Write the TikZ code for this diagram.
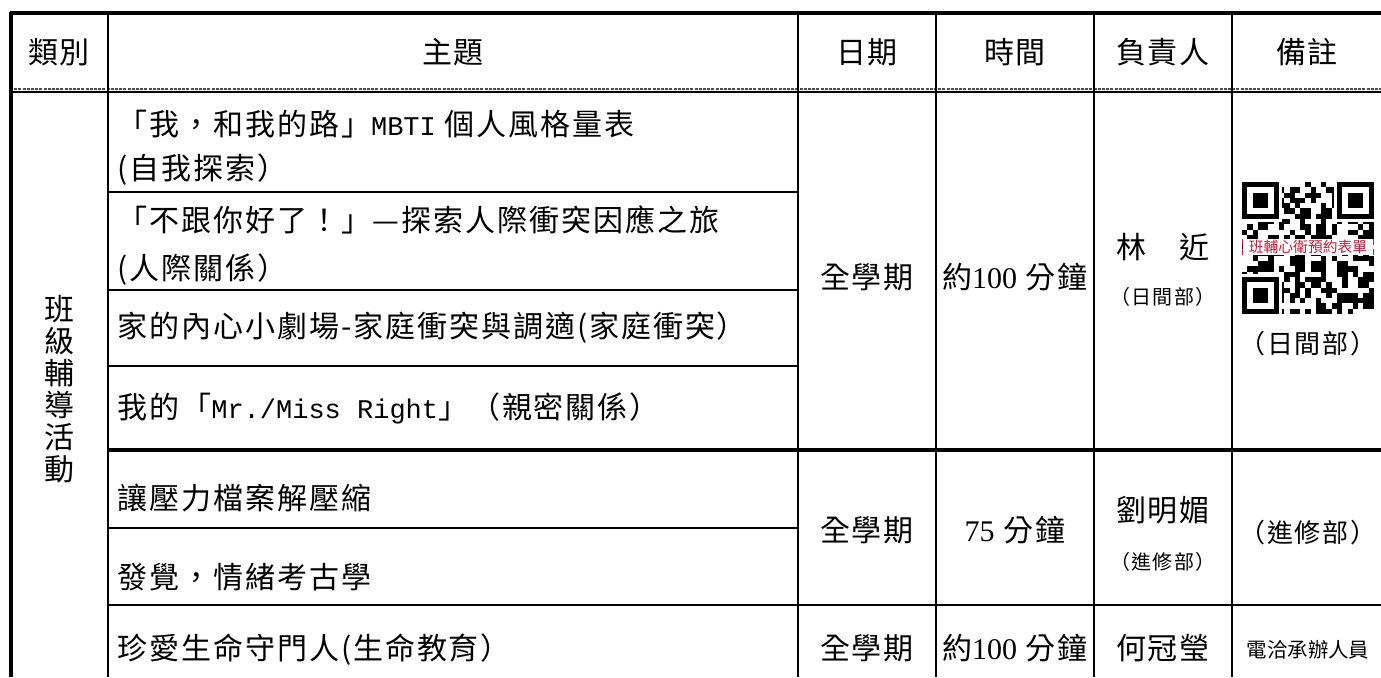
\documentclass[tikz,border=0pt]{standalone}
\usepackage{fontspec}
\usepackage{xcolor}
\setmainfont{Noto Sans CJK TC}[LetterSpace=6.5]
\newfontfamily\latfont{Liberation Mono}[Scale=0.9]
\newfontfamily\numfont{Liberation Serif}
\newfontfamily\notefont{Noto Sans CJK TC}
\definecolor{qr-red}{RGB}{196,30,58}
\tikzset{
    grid-line/.style = {line width=1pt},
    heavy-line/.style = {line width=1.6pt},
    hatch-line/.style = {black!70, line width=1pt, dash pattern=on 1.5pt off 0.6pt},
    cell-text/.style = {inner sep=0pt, font=\fontsize{15}{16}\selectfont},
    topic-text/.style = {cell-text, anchor=west},
    dept-text/.style = {inner sep=0pt, font=\fontsize{10}{12}\selectfont},
    note-text/.style = {inner sep=0pt, font=\fontsize{13}{15}\selectfont},
    qr-band/.style = {fill=white, text=qr-red, inner sep=0pt, minimum width=65pt, minimum height=8pt, font=\notefont\fontsize{7.4}{8}\selectfont},
}

\begin{document}
\begin{tikzpicture}[x=0.5pt, y=-0.5pt]
\useasboundingbox (0,0) rectangle (1381,677);
\fill[white] (0,0) rectangle (1381,677);

% table rules
\draw[hatch-line] (10,89) -- (1381,89);
\draw[line width=1.1pt] (10,92) -- (1381,92);
\draw[line width=2pt] (10,13) -- (1381,13);
\draw[line width=2pt] (11,12) -- (11,677);
\foreach \x in {108,798,936,1094,1232}
    \draw[grid-line] (\x,13) -- (\x,677);
\foreach \y in {192,290,366,528}
    \draw[grid-line] (108,\y) -- (798,\y);
\draw[heavy-line] (108,450) -- (1381,450);
\draw[grid-line] (108,605) -- (1381,605);

% header
\node[cell-text] (h-kind) at (59,52) {類別};
\node[cell-text] (h-topic) at (453,52) {主題};
\node[cell-text] (h-date) at (867,52) {日期};
\node[cell-text] (h-time) at (1015,52) {時間};
\node[cell-text] (h-lead) at (1163,52) {負責人};
\node[cell-text] (h-note) at (1307,52) {備註};

\node[cell-text, align=center] (kind) at (59,389) {班\\級\\輔\\導\\活\\動};

% topics
\node[topic-text] (t1a) at (117,124) {「我，和我的路」{\latfont MBTI} 個人風格量表};
\node[topic-text] (t1b) at (117,170) {(自我探索）};
\node[topic-text] (t2a) at (117,220) {「不跟你好了！」—探索人際衝突因應之旅};
\node[topic-text] (t2b) at (117,270) {(人際關係）};
\node[topic-text] (t3) at (117,328) {家的內心小劇場-家庭衝突與調適(家庭衝突）};
\node[topic-text] (t4) at (117,408) {我的「{\latfont Mr./Miss Right}」（親密關係）};
\node[topic-text] (t5) at (117,498) {讓壓力檔案解壓縮};
\node[topic-text] (t6) at (117,577) {發覺，情緒考古學};
\node[topic-text] (t7) at (117,650) {珍愛生命守門人(生命教育）};

% first block
\node[cell-text] (date1) at (867,277) {全學期};
\node[cell-text] (time1) at (1015,277) {約{\numfont 100} 分鐘};
\node[cell-text] (lead1) at (1163,247) {林　近};
\node[dept-text] (dept1) at (1163,297) {（日間部）};
\node[note-text] (note1) at (1308,344) {（日間部）};

% qr code
\begin{scope}[shift={(1242,182)}]
    \pgfmathsetseed{417}
    \foreach \i in {0,...,24}{
        \foreach \j in {0,...,24}{
            \pgfmathrandominteger{\bit}{0}{1}
            \ifnum\bit=1 \fill (\i*5.28,\j*5.28) rectangle ++(5.28,5.28); \fi
        }
    }
    \foreach \cx/\cy in {0/0, 18/0, 0/18}{
        \fill[white] ({(\cx-0.5)*5.28},{(\cy-0.5)*5.28}) rectangle ++(8*5.28,8*5.28);
        \fill (\cx*5.28,\cy*5.28) rectangle ++(7*5.28,7*5.28);
        \fill[white] ({(\cx+1)*5.28},{(\cy+1)*5.28}) rectangle ++(5*5.28,5*5.28);
        \fill ({(\cx+2)*5.28},{(\cy+2)*5.28}) rectangle ++(3*5.28,3*5.28);
    }
\end{scope}
\node[qr-band] (qr-label) at (1308,247) {班輔心衛預約表單};
\draw[qr-red, densely dashed] (qr-label.north west) -- (qr-label.south west);
\draw[qr-red, densely dashed] (qr-label.north east) -- (qr-label.south east);

% second block
\node[cell-text] (date2) at (867,530) {全學期};
\node[cell-text] (time2) at (1015,530) {{\numfont 75} 分鐘};
\node[cell-text] (lead2) at (1163,510) {劉明媚};
\node[dept-text] (dept2) at (1163,562) {（進修部）};
\node[note-text] (note2) at (1308,533) {（進修部）};

% last row
\node[cell-text] (date3) at (867,648) {全學期};
\node[cell-text] (time3) at (1015,648) {約{\numfont 100} 分鐘};
\node[cell-text] (lead3) at (1163,648) {何冠瑩};
\node[inner sep=0pt, font=\notefont\fontsize{10.2}{12}\selectfont] (note3) at (1308,650) {電洽承辦人員};
\end{tikzpicture}
\end{document}
